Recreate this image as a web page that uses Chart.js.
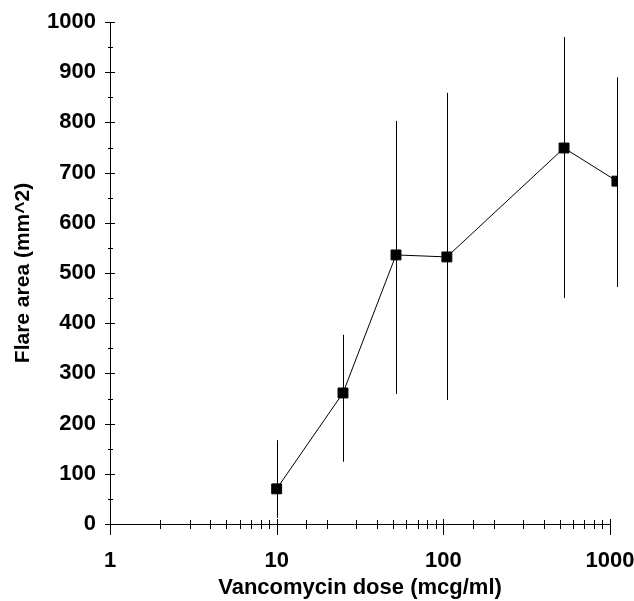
<!DOCTYPE html>
<html>
<head>
<meta charset="utf-8">
<script src="https://cdn.jsdelivr.net/npm/chart.js@4"></script>
<style>
  html, body { margin: 0; padding: 0; background: #fff; }
  #wrap { width: 634px; height: 601px; }
</style>
</head>
<body>
<div id="wrap"><canvas id="chart"></canvas></div>
<script>
'use strict';

// dose (mcg/ml) and flare area (mm^2)
const doses = [10, 25, 52, 105, 530, 1100];
const flareMean = [70, 261, 536, 532, 749, 683];
const flareHigh = [167, 377, 803, 859, 970, 890];
const flareLow = [12, 124, 259, 247, 450, 472];
const xTickLabels = [1, 10, 100, 1000];
const yTickLabels = [0, 100, 200, 300, 400, 500, 600, 700, 800, 900, 1000];

const font = "'Liberation Sans', Arial, sans-serif";

// error bars + crossing tick marks
const extras = {
  id: 'extras',
  afterDatasetsDraw(chart) {
    const ctx = chart.ctx;
    const x = chart.scales.x;
    const y = chart.scales.y;
    ctx.save();
    ctx.strokeStyle = '#000';
    ctx.lineWidth = 1;
    ctx.beginPath();
    doses.forEach((d, i) => {
      const px = Math.round(x.getPixelForValue(d)) + 0.5;
      ctx.moveTo(px, y.getPixelForValue(flareHigh[i]));
      ctx.lineTo(px, y.getPixelForValue(flareLow[i]));
    });
    // x ticks
    const y0 = y.getPixelForValue(0);
    x.ticks.forEach(t => {
      const px = Math.round(x.getPixelForValue(t.value)) + 0.5;
      const major = xTickLabels.includes(t.value);
      ctx.moveTo(px, y0 - (major ? 5 : 4));
      ctx.lineTo(px, y0 + (major ? 11 : 5));
    });
    // y ticks
    const x0 = x.left;
    y.ticks.forEach(t => {
      const py = Math.round(y.getPixelForValue(t.value)) + 0.5;
      const major = t.value % 100 === 0;
      ctx.moveTo(x0 - (major ? 5 : 2), py);
      ctx.lineTo(x0 + (major ? 5 : 3), py);
    });
    ctx.stroke();
    ctx.restore();
  }
};

new Chart(document.getElementById('chart').getContext('2d'), {
  type: 'line',
  data: {
    datasets: [{
      data: doses.map((d, i) => ({x: d, y: flareMean[i]})),
      borderColor: '#000',
      borderWidth: 1,
      backgroundColor: '#000',
      pointStyle: 'rect',
      pointRadius: 7,
      pointHoverRadius: 7,
      tension: 0,
      clip: {left: false, top: false, right: 7, bottom: false}
    }]
  },
  plugins: [extras],
  options: {
    responsive: true,
    maintainAspectRatio: false,
    animation: false,
    events: [],
    layout: {padding: {left: 0, top: 22, right: 0, bottom: 0}},
    plugins: {legend: {display: false}, tooltip: {enabled: false}},
    scales: {
      x: {
        type: 'logarithmic',
        min: 1,
        max: 1000,
        grid: {display: false, drawTicks: false},
        border: {display: true, color: '#000', width: 1},
        ticks: {
          autoSkip: false,
          maxRotation: 0,
          color: '#000',
          padding: 24,
          font: {family: font, size: 22, weight: 'bold'},
          callback: v => xTickLabels.includes(v) ? String(v) : ''
        },
        title: {
          display: true,
          text: 'Vancomycin dose (mcg/ml)',
          color: '#000',
          font: {family: font, size: 22, weight: 'bold'},
          padding: {top: 0, bottom: 0}
        },
        afterFit(s) {
          s.height = 77;
          s.paddingLeft = 0;
          s.paddingRight = 24;
        }
      },
      y: {
        min: 0,
        max: 1000,
        grid: {display: false, drawTicks: false},
        border: {display: true, color: '#000', width: 1},
        ticks: {
          stepSize: 50,
          autoSkip: false,
          color: '#000',
          padding: 14,
          font: {family: font, size: 22, weight: 'bold'},
          callback: v => yTickLabels.includes(v) ? String(v) : ''
        },
        title: {
          display: true,
          text: 'Flare area (mm^2)',
          color: '#000',
          font: {family: font, size: 21, weight: 'bold'},
          padding: {top: 11, bottom: 0}
        },
        afterFit(s) {
          s.width = 110;
          s.paddingTop = 0;
          s.paddingBottom = 0;
        }
      }
    }
  }
});
</script>
</body>
</html>
